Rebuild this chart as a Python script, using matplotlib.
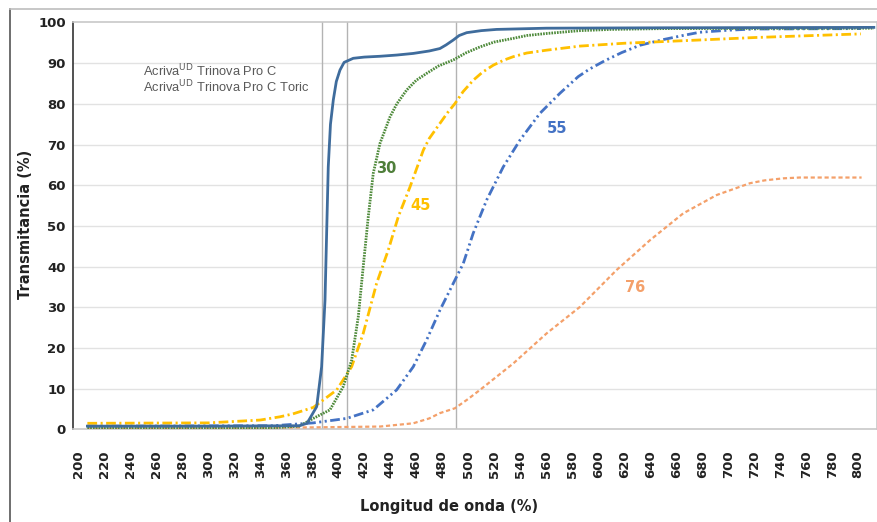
import numpy as np
import matplotlib
matplotlib.use("Agg")
import matplotlib.pyplot as plt
from matplotlib.lines import Line2D

plt.rcParams['font.family'] = ['DejaVu Sans']
plt.rcParams['lines.scale_dashes'] = False

# wavelength (nm) / transmittance (%)
wl_pro_c = [207, 300, 370, 376, 383.4, 387.2, 389.8, 392.3, 394, 396.2, 398.5, 401.3, 404.5,
            411.5, 420, 432.1, 445, 457.7, 470, 478.2, 483, 488.5, 493, 498.8, 510, 521.8,
            560, 650, 812]
t_pro_c = [0.8, 0.8, 0.9, 1.5, 5.6, 15.4, 31.8, 64.5, 75, 81, 85.5, 88.3, 90.2,
           91.2, 91.5, 91.7, 92.0, 92.4, 93.0, 93.6, 94.5, 95.7, 96.8, 97.5, 98.0, 98.3,
           98.6, 98.7, 98.8]

wl_30 = [207, 350, 370, 380.8, 393.6, 403.8, 410.3, 415.4, 419.2, 423.1, 426.9, 432.1,
         439.8, 445, 452.6, 460, 468, 477, 488.5, 498, 509, 520, 534.6, 545, 560.3, 585.9,
         610, 650, 812]
t_30 = [0.3, 0.4, 0.8, 2.7, 4.8, 10.5, 17, 27.7, 40, 52.3, 62.9, 70.3,
        76.8, 80.0, 83.4, 85.8, 87.5, 89.3, 90.8, 92.5, 94, 95.2, 96.1, 96.8, 97.3, 98,
        98.3, 98.5, 98.6]

wl_45 = [207, 300, 340, 355.2, 365, 380.8, 398.8, 410.3, 419.2, 429.5, 438.5, 446.2,
         455.2, 465.4, 470, 478.2, 484, 489.8, 496, 503.8, 511, 519.2, 527, 534.6, 545,
         560.3, 585.9, 620, 678, 720, 802]
t_45 = [1.5, 1.6, 2.3, 3.1, 3.8, 5.4, 9.7, 15.4, 23.6, 35.9, 44.1, 52.3,
        59.6, 68.6, 71.5, 75.2, 77.8, 80.1, 83.0, 85.8, 87.8, 89.5, 90.7, 91.6, 92.5,
        93.2, 94.2, 94.9, 95.7, 96.3, 97.2]

wl_55 = [207, 350, 380.8, 406.5, 426.9, 444.9, 457.7, 468, 478.2, 488.5, 496.2, 503.8,
         514.2, 526.9, 539.8, 555.2, 570.5, 584.6, 593, 605, 618, 632, 650, 665, 678,
         700, 720, 802]
t_55 = [0.8, 0.9, 1.6, 2.7, 4.8, 9.7, 15.4, 22, 29.3, 35.9, 40.8, 48.2,
        56.4, 64.5, 71.1, 77.7, 82.6, 86.7, 88.5, 90.6, 92.6, 94.4, 95.8, 96.8, 97.6,
        98.1, 98.4, 98.5]

wl_76 = [207, 380, 432.1, 457.7, 470, 478.2, 489.8, 500, 509, 534.6, 560.3, 585.9, 614.2,
         639.8, 665.4, 691.1, 716.7, 728, 742.3, 755, 802.6]
t_76 = [0.2, 0.5, 0.7, 1.5, 2.7, 4, 5.2, 7.5, 9.7, 16.2, 23.6, 30.1, 39.2,
        46.5, 53.1, 57.6, 60.5, 61.2, 61.7, 61.9, 61.9]

xtick_vals = list(range(200, 801, 20))
ytick_vals = list(range(0, 101, 10))
vlines_nm = [387.7, 406.5, 490.3]

fig = plt.figure(figsize=(8.78, 5.22), dpi=100)
ax = fig.add_axes([0.0828, 0.1774, 0.9157, 0.7795])

for yv in ytick_vals[1:-1]:
    ax.axhline(yv, color='#E2E2E2', lw=1.0, zorder=0)
for xv in vlines_nm:
    ax.axvline(xv, color='#B3B3B3', lw=1.0, zorder=1)

ax.plot(wl_76, t_76, color='#F4A06A', lw=1.6, linestyle=(0, (3, 2)), zorder=3)
ax.plot(wl_55, t_55, color='#4472C4', lw=2.0, linestyle=(0, (7, 2.5, 1.5, 2.5, 1.5, 2.5)), zorder=3)
ax.plot(wl_45, t_45, color='#FFC000', lw=2.0, linestyle=(0, (7, 2.5, 1.5, 2.5)), zorder=3)
ax.plot(wl_30, t_30, color='#4E8A3A', lw=2.0, linestyle=(0, (1.2, 0.8)), zorder=4)
ax.plot(wl_pro_c, t_pro_c, color='#3F6C9C', lw=2.0, zorder=5)

ax.set_xlim(195.7, 814.2)
ax.set_ylim(0, 100)
ax.set_xticks(xtick_vals)
ax.set_xticklabels([str(v) for v in xtick_vals], rotation=90, fontsize=9.5, fontweight='bold')
ax.set_yticks(ytick_vals)
ax.set_yticklabels([str(v) for v in ytick_vals], fontsize=9.5, fontweight='bold')
ax.tick_params(axis='x', length=0, pad=15, colors='#222222')
ax.tick_params(axis='y', length=0, pad=5, colors='#222222')

ax.spines['left'].set_color('#333333')
ax.spines['left'].set_linewidth(1.2)
for s in ['top', 'right', 'bottom']:
    ax.spines[s].set_color('#C8C8C8')
    ax.spines[s].set_linewidth(1.2)

fig.text(0.0285, 0.571, 'Transmitancia (%)', rotation=90, ha='center', va='center',
         fontsize=10.5, fontweight='bold', color='#222222')
fig.text(449 / 878, 1 - 507 / 522, 'Longitud de onda (%)', ha='center', va='center',
         fontsize=10.5, fontweight='bold', color='#222222')

ax.text(142.7 / 878, 1 - 70.7 / 522, r'Acriva$^{\mathrm{UD}}$ Trinova Pro C', transform=fig.transFigure,
        ha='left', va='center', fontsize=9.3, color='#595959', family='Liberation Sans')
ax.text(142.7 / 878, 1 - 87.3 / 522, r'Acriva$^{\mathrm{UD}}$ Trinova Pro C Toric', transform=fig.transFigure,
        ha='left', va='center', fontsize=9.3, color='#595959', family='Liberation Sans')

ax.text(437, 64, '30', color='#4F7F3A', fontsize=10.5, fontweight='bold', ha='center', va='center')
ax.text(463, 55, '45', color='#FFC000', fontsize=10.5, fontweight='bold', ha='center', va='center')
ax.text(568, 74, '55', color='#4472C4', fontsize=10.5, fontweight='bold', ha='center', va='center')
ax.text(628, 34.8, '76', color='#F4A06A', fontsize=10.5, fontweight='bold', ha='center', va='center')

# outer frame of the original figure
fig.add_artist(Line2D([10 / 878, 10 / 878], [0, 1 - 9 / 522], transform=fig.transFigure,
                      color='#555555', lw=1.2))
fig.add_artist(Line2D([10 / 878, 1], [1 - 9 / 522, 1 - 9 / 522], transform=fig.transFigure,
                      color='#BDBDBD', lw=1.2))

fig.savefig('out.png', dpi=100)
